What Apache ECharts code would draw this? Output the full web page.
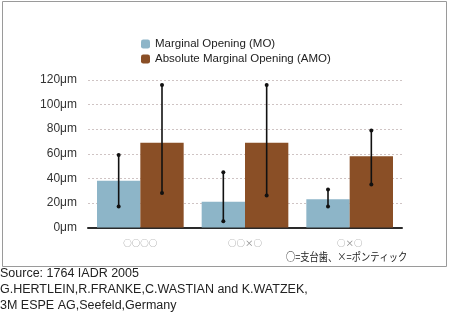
<!DOCTYPE html>
<html>
<head>
<meta charset="utf-8">
<script src="https://cdn.jsdelivr.net/npm/echarts@6/dist/echarts.min.js"></script>
<style>
  html, body { margin: 0; padding: 0; background: #fff; }
  #chart { width: 450px; height: 324px; }
</style>
</head>
<body>
<div id="chart"></div>
<script>
// Bridge configurations (○ = abutment, × = pontic)
const categories = ['○○○○', '○○×○', '○×○'];

// Marginal Opening (MO), μm
const moMean = [38, 21, 23];
const moLow  = [17, 5, 17];
const moHigh = [59, 45, 31];

// Absolute Marginal Opening (AMO), μm
const amoMean = [69, 69, 58];
const amoLow  = [28, 26, 35];
const amoHigh = [116, 116, 79];

const yTicks = { min: 0, max: 120, interval: 20 };

const BAR_FRACTION = 0.414;   // bar width as share of a category band

function errorBars(lows, highs, side) {
  return {
    type: 'custom',
    z: 5,
    silent: true,
    data: lows.map((lo, i) => [i, lo, highs[i]]),
    renderItem: function (params, api) {
      const band = api.size([1, 0])[0];
      const dx = side * band * BAR_FRACTION / 2;
      const lo = api.coord([api.value(0), api.value(1)]);
      const hi = api.coord([api.value(0), api.value(2)]);
      const x = lo[0] + dx;
      const style = { stroke: '#111', lineWidth: 1.6 };
      return {
        type: 'group',
        children: [
          { type: 'line', shape: { x1: x, y1: lo[1], x2: x, y2: hi[1] }, style: style },
          { type: 'circle', shape: { cx: x, cy: lo[1], r: 2 }, style: { fill: '#111' } },
          { type: 'circle', shape: { cx: x, cy: hi[1], r: 2 }, style: { fill: '#111' } }
        ]
      };
    }
  };
}

const chart = echarts.init(document.getElementById('chart'), null, { renderer: 'canvas' });

chart.setOption({
  animation: false,
  backgroundColor: '#fff',
  grid: { left: 88, right: 48, top: 80, bottom: 96.5 },
  legend: {
    orient: 'vertical',
    left: 136,
    top: 33,
    itemWidth: 9,
    itemHeight: 9,
    itemGap: 3,
    textStyle: { fontFamily: 'Liberation Sans', fontSize: 11.5, color: '#222' },
    data: ['Marginal Opening (MO)', 'Absolute Marginal Opening (AMO)']
  },
  xAxis: {
    type: 'category',
    data: categories,
    axisLine: { lineStyle: { color: '#2a2a2a', width: 2 } },
    axisTick: { show: false },
    axisLabel: {
      margin: 11,
      color: '#8a8a8a',
      fontSize: 8.5,
      fontFamily: 'Noto Sans CJK JP'
    }
  },
  yAxis: {
    type: 'value',
    min: yTicks.min,
    max: yTicks.max,
    interval: yTicks.interval,
    axisLine: { show: false },
    axisTick: { show: false },
    axisLabel: {
      margin: 11,
      color: '#333',
      fontSize: 12,
      fontFamily: 'Liberation Sans',
      formatter: '{value}μm'
    },
    splitLine: { lineStyle: { color: '#cfc4c4', type: [2, 2], width: 1 } }
  },
  series: [
    {
      name: 'Marginal Opening (MO)',
      type: 'bar',
      data: moMean,
      barWidth: (BAR_FRACTION * 100) + '%',
      barGap: '0%',
      itemStyle: { color: '#8db5c8' }
    },
    {
      name: 'Absolute Marginal Opening (AMO)',
      type: 'bar',
      data: amoMean,
      barWidth: (BAR_FRACTION * 100) + '%',
      barGap: '0%',
      itemStyle: { color: '#8a4f26' }
    },
    errorBars(moLow, moHigh, -1),
    errorBars(amoLow, amoHigh, 1)
  ],
  graphic: [
    {
      type: 'rect',
      shape: { x: 2.5, y: 1.5, width: 444, height: 265 },
      style: { fill: null, stroke: '#9a9a9a', lineWidth: 1 },
      silent: true
    },
    {
      type: 'text',
      x: 286,
      y: 251,
      scaleX: 0.84,
      style: {
        text: '○=支台歯、×=ポンティック',
        fill: '#222',
        fontSize: 11,
        fontFamily: 'Noto Sans CJK JP',
        verticalAlign: 'top'
      }
    },
    {
      type: 'text',
      left: 0,
      top: 266,
      style: {
        text: 'Source: 1764 IADR 2005\nG.HERTLEIN,R.FRANKE,C.WASTIAN and K.WATZEK,\n3M ESPE AG,Seefeld,Germany',
        fill: '#222',
        fontSize: 12.5,
        lineHeight: 16,
        fontFamily: 'Liberation Sans'
      }
    }
  ]
});
</script>
</body>
</html>
